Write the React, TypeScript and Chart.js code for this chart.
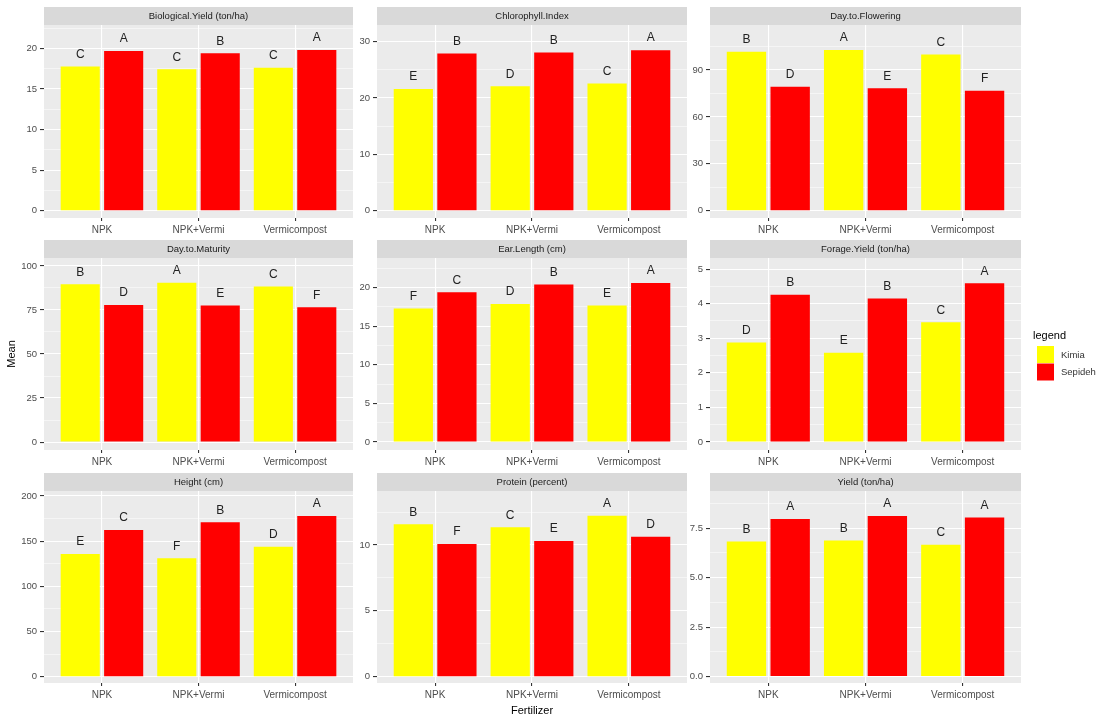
import React, { useEffect, useRef } from "react";
import { Chart, registerables } from "chart.js";

Chart.register(...registerables);

// ---------------- data ----------------
const categories = ["NPK", "NPK+Vermi", "Vermicompost"];
const seriesNames = ["Kimia", "Sepideh"];
const seriesColors = ["#FFFF00", "#FF0000"];
const legendTitle = "legend";
const xTitle = "Fertilizer";
const yTitle = "Mean";

const panelTitles = [
  "Biological.Yield (ton/ha)",
  "Chlorophyll.Index",
  "Day.to.Flowering",
  "Day.to.Maturity",
  "Ear.Length (cm)",
  "Forage.Yield (ton/ha)",
  "Height (cm)",
  "Protein (percent)",
  "Yield (ton/ha)",
];

const kimiaValues = [
  [17.75, 17.42, 17.62],
  [21.6, 22.1, 22.6],
  [101.7, 102.8, 100.0],
  [89.6, 90.5, 88.3],
  [17.3, 17.9, 17.7],
  [2.88, 2.58, 3.46],
  [135.8, 131.0, 143.9],
  [11.57, 11.34, 12.23],
  [6.83, 6.88, 6.66],
];

const sepidehValues = [
  [19.67, 19.38, 19.8],
  [27.9, 28.1, 28.5],
  [79.3, 78.3, 76.8],
  [77.8, 77.5, 76.5],
  [19.4, 20.4, 20.6],
  [4.26, 4.15, 4.59],
  [162.4, 170.8, 177.9],
  [10.08, 10.3, 10.63],
  [7.96, 8.12, 8.04],
];

const kimiaLetters = [
  ["C", "C", "C"],
  ["E", "D", "C"],
  ["B", "A", "C"],
  ["B", "A", "C"],
  ["F", "D", "E"],
  ["D", "E", "C"],
  ["E", "F", "D"],
  ["B", "C", "A"],
  ["B", "B", "C"],
];

const sepidehLetters = [
  ["A", "B", "A"],
  ["B", "B", "A"],
  ["D", "E", "F"],
  ["D", "E", "F"],
  ["C", "B", "A"],
  ["B", "B", "A"],
  ["C", "B", "A"],
  ["F", "E", "D"],
  ["A", "A", "A"],
];

const yTickValues = [
  [0, 5, 10, 15, 20],
  [0, 10, 20, 30],
  [0, 30, 60, 90],
  [0, 25, 50, 75, 100],
  [0, 5, 10, 15, 20],
  [0, 1, 2, 3, 4, 5],
  [0, 50, 100, 150, 200],
  [0, 5, 10],
  [0, 2.5, 5, 7.5],
];

const yTickLabels = [
  ["0", "5", "10", "15", "20"],
  ["0", "10", "20", "30"],
  ["0", "30", "60", "90"],
  ["0", "25", "50", "75", "100"],
  ["0", "5", "10", "15", "20"],
  ["0", "1", "2", "3", "4", "5"],
  ["0", "50", "100", "150", "200"],
  ["0", "5", "10"],
  ["0.0", "2.5", "5.0", "7.5"],
];

const yMin = [-0.9, -1.3, -4.67, -4.5, -1.04, -0.23, -7.0, -0.48, -0.32];
const yMax = [22.87, 32.97, 118.8, 104.5, 23.85, 5.32, 205.5, 14.1, 9.38];

// ---------------- layout ----------------
const FONT = '"Liberation Sans", Arial, Helvetica, sans-serif';
const colX = [
  [44, 353],
  [377, 687],
  [710, 1021],
];
const rowY = [
  [25, 218],
  [258, 450],
  [491, 683],
];
const STRIP = 18;
const YAXIS_W = 44;
const XAXIS_H = 22;
const LEGEND_PANEL = 5;
const PAGE_W = 1101;

function panelBox(p: number) {
  const r = Math.floor(p / 3);
  const c = p % 3;
  const pw = colX[c][1] - colX[c][0];
  const ph = rowY[r][1] - rowY[r][0];
  const extra = p === LEGEND_PANEL ? PAGE_W - colX[c][1] : 0;
  return {
    left: colX[c][0] - YAXIS_W,
    top: rowY[r][0] - STRIP,
    width: pw + YAXIS_W + extra,
    height: STRIP + ph + XAXIS_H,
    extra,
  };
}

export default function App() {
  const refs = useRef<(HTMLCanvasElement | null)[]>([]);

  useEffect(() => {
    const charts: Chart[] = [];
    for (let p = 0; p < 9; p++) {
      const canvas = refs.current[p];
      if (!canvas) continue;
      const box = panelBox(p);
      const majors = yTickValues[p];
      const step = majors[1] - majors[0];
      const allTicks: number[] = [];
      for (let v = 0; v <= yMax[p] + 1e-9; v += step / 2) {
        allTicks.push(Math.round(v * 1000) / 1000);
      }
      const isMajor = (v: number) => majors.some((m) => Math.abs(m - v) < 1e-6);
      const letters = [kimiaLetters[p], sepidehLetters[p]];
      const title = panelTitles[p];

      const panelPlugin = {
        id: "panelDecor" + p,
        beforeDraw(chart: any) {
          const { ctx, chartArea } = chart;
          ctx.save();
          ctx.fillStyle = "#EBEBEB";
          ctx.fillRect(chartArea.left, chartArea.top, chartArea.right - chartArea.left, chartArea.bottom - chartArea.top);
          ctx.fillStyle = "#D9D9D9";
          ctx.fillRect(chartArea.left, chartArea.top - STRIP, chartArea.right - chartArea.left, STRIP);
          ctx.fillStyle = "#1A1A1A";
          ctx.font = `9.5px ${FONT}`;
          ctx.textAlign = "center";
          ctx.textBaseline = "middle";
          ctx.fillText(title, (chartArea.left + chartArea.right) / 2, chartArea.top - STRIP / 2 + 0.5);
          ctx.restore();
        },
        afterDatasetsDraw(chart: any) {
          const { ctx } = chart;
          ctx.save();
          ctx.fillStyle = "#222222";
          ctx.font = `12px ${FONT}`;
          ctx.textAlign = "center";
          ctx.textBaseline = "middle";
          for (let d = 0; d < 2; d++) {
            const meta = chart.getDatasetMeta(d);
            meta.data.forEach((el: any, i: number) => {
              ctx.fillText(letters[d][i], el.x, el.y - 12);
            });
          }
          ctx.restore();
        },
        afterDraw(chart: any) {
          if (p !== LEGEND_PANEL) return;
          const { ctx, chartArea } = chart;
          ctx.save();
          const x0 = chartArea.right + 12;
          ctx.textAlign = "left";
          ctx.textBaseline = "middle";
          ctx.fillStyle = "#000000";
          ctx.font = `11px ${FONT}`;
          ctx.fillText(legendTitle, x0, chartArea.top + 78);
          seriesNames.forEach((name, i) => {
            const ky = chartArea.top + 88 + i * 17.5;
            ctx.fillStyle = seriesColors[i];
            ctx.fillRect(x0 + 4, ky, 17, 17);
            ctx.fillStyle = "#333333";
            ctx.font = `9.5px ${FONT}`;
            ctx.fillText(name, x0 + 28, ky + 9);
          });
          ctx.restore();
        },
      };

      const chart = new Chart(canvas, {
        type: "bar",
        data: {
          datasets: [0, 1].map((d) => ({
            label: seriesNames[d],
            data: (d === 0 ? kimiaValues[p] : sepidehValues[p]).map((v, i) => ({ x: i + 1, y: v })),
            backgroundColor: seriesColors[d],
            borderWidth: 0,
            categoryPercentage: 0.9,
            barPercentage: 0.9,
          })),
        },
        options: {
          responsive: false,
          animation: false,
          events: [],
          layout: { padding: { top: STRIP, left: 0, right: box.extra, bottom: 0 } },
          plugins: { legend: { display: false }, tooltip: { enabled: false } },
          scales: {
            x: {
              type: "linear",
              min: 0.4,
              max: 3.6,
              offset: false,
              afterBuildTicks(scale: any) {
                scale.ticks = categories.map((_, i) => ({ value: i + 1 }));
              },
              afterFit(scale: any) {
                scale.height = XAXIS_H;
              },
              ticks: {
                autoSkip: false,
                maxRotation: 0,
                padding: 3,
                color: "#4D4D4D",
                font: { family: FONT, size: 10 },
                callback: (v: any) => categories[Math.round(Number(v)) - 1] ?? "",
              },
              grid: {
                offset: false,
                color: "#FFFFFF",
                lineWidth: 1.1,
                tickColor: "#333333",
                tickLength: 3,
              },
              border: { display: false },
            },
            y: {
              type: "linear",
              min: yMin[p],
              max: yMax[p],
              afterBuildTicks(scale: any) {
                scale.ticks = allTicks.map((v) => ({ value: v }));
              },
              afterFit(scale: any) {
                scale.width = YAXIS_W;
              },
              ticks: {
                autoSkip: false,
                padding: 3,
                color: "#4D4D4D",
                font: { family: FONT, size: 9.5 },
                callback: (v: any) => {
                  const idx = majors.findIndex((m) => Math.abs(m - Number(v)) < 1e-6);
                  return idx >= 0 ? yTickLabels[p][idx] : "";
                },
              },
              grid: {
                color: "#FFFFFF",
                lineWidth: (ctx: any) => (isMajor(ctx.tick ? ctx.tick.value : 0) ? 1.1 : 0.5),
                tickColor: (ctx: any) =>
                  isMajor(ctx.tick ? ctx.tick.value : 0) ? "#333333" : "rgba(0,0,0,0)",
                tickLength: 4,
              },
              border: { display: false },
            },
          },
        },
        plugins: [panelPlugin],
      } as any);
      charts.push(chart);
    }
    return () => charts.forEach((c) => c.destroy());
  }, []);

  return (
    <div
      style={{
        position: "absolute",
        left: 0,
        top: 0,
        width: 1101,
        height: 714,
        background: "#FFFFFF",
        overflow: "hidden",
        fontFamily: FONT,
      }}
    >
      {Array.from({ length: 9 }).map((_, p) => {
        const b = panelBox(p);
        return (
          <canvas
            key={p}
            ref={(el) => {
              refs.current[p] = el;
            }}
            width={b.width}
            height={b.height}
            style={{ position: "absolute", left: b.left, top: b.top, width: b.width, height: b.height }}
          />
        );
      })}
      <div
        style={{
          position: "absolute",
          left: 11 - 40,
          top: 354 - 7,
          width: 80,
          height: 14,
          lineHeight: "14px",
          textAlign: "center",
          fontSize: 11,
          color: "#000",
          transform: "rotate(-90deg)",
        }}
      >
        {yTitle}
      </div>
      <div
        style={{
          position: "absolute",
          left: 532 - 60,
          top: 710 - 7,
          width: 120,
          height: 14,
          lineHeight: "14px",
          textAlign: "center",
          fontSize: 11,
          color: "#000",
        }}
      >
        {xTitle}
      </div>
    </div>
  );
}
